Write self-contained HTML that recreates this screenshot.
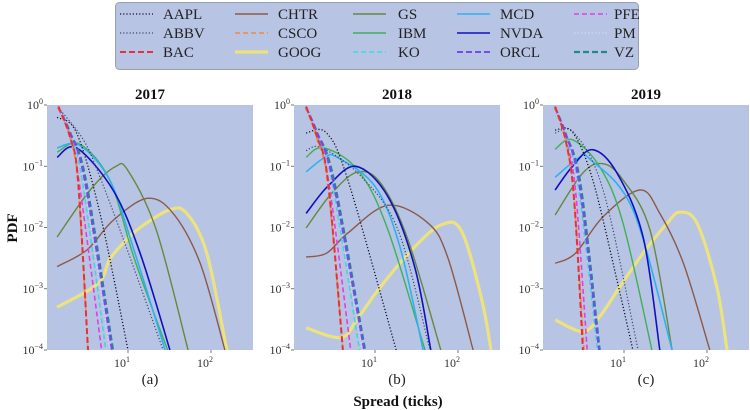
<!DOCTYPE html>
<html><head><meta charset="utf-8"><style>
html,body{margin:0;padding:0;background:#fff;}
svg{display:block;font-family:"Liberation Serif",serif;}
</style></head><body>
<svg id="chart" width="750" height="410" viewBox="0 0 750 410" xmlns="http://www.w3.org/2000/svg"></svg>
<script>
const tickers=["AAPL","ABBV","BAC","CHTR","CSCO","GOOG","GS","IBM","KO","MCD","NVDA","ORCL","PFE","PM","VZ"];
const years=["2017","2018","2019"];
const panelLabels=["(a)","(b)","(c)"];
const xTickLabels=["1","2"];
const yTickLabels=["0","-1","-2","-3","-4"];
// series points [spread, pdf] per panel
const AAPL=[[[1.4,0.63],[2.4,0.35],[4.6,0.017],[10,1e-4]],[[1.48,0.35],[2.6,0.35],[4.7,0.06],[18,1e-4]],[[1.48,0.39],[2.4,0.36],[4.2,0.06],[8.2,1.4e-3],[12.8,1e-4]]];
const ABBV=[[[1.45,0.9],[2.9,0.27],[4.6,0.066],[10,4e-3],[26.5,1e-4]],[[1.48,0.18],[2.3,0.2],[6.8,0.068],[19,9e-3],[46,1e-4]],[[1.48,0.35],[2.5,0.35],[5.6,0.041],[14.8,1e-4]]];
const BAC=[[[1.45,0.95],[2.0,0.3],[2.5,0.06],[3.3,1e-4]],[[1.48,0.95],[2.0,0.3],[2.7,0.06],[4.1,1e-4]],[[1.48,0.95],[2.0,0.25],[2.5,0.03],[3.2,1e-4]]];
const CSCO=[[[1.45,0.9],[2.0,0.3],[2.5,0.05],[3.3,1e-4]],[[1.48,0.9],[2.0,0.28],[2.7,0.05],[4.1,1e-4]],[[1.48,0.9],[2.0,0.25],[2.5,0.03],[3.3,1e-4]]];
const CHTR=[[[1.4,2.3e-3],[3.2,4.3e-3],[6.6,0.013],[17,0.03],[35,0.017],[74,2.6e-3],[147,1e-4]],[[1.48,3.3e-3],[2.6,3.8e-3],[4.7,8.1e-3],[14.3,0.023],[43,0.012],[75,3.3e-3],[152,1e-4]],[[1.48,2.6e-3],[2.6,3.8e-3],[5.6,0.015],[15.6,0.041],[27,0.017],[52,2.6e-3],[108,1e-4]]];
const GOOG=[[[1.4,5e-4],[4.3,1.2e-3],[6,3e-3],[8.7,5.5e-3],[14,0.01],[32,0.0195],[51,0.017],[89,3.8e-3],[155,1e-4]],[[1.48,2.3e-4],[3.9,1.6e-4],[6.2,3.3e-4],[11.8,1.1e-3],[30,4.8e-3],[62,0.011],[109,9e-3],[190,7.4e-4],[250,1e-4]],[[1.48,3.1e-4],[3.2,2e-4],[5.1,3.5e-4],[9,1.1e-3],[17,3.8e-3],[33,0.0117],[47,0.0178],[76,0.0117],[131,1.1e-3],[174,1e-4]]];
const GS=[[[1.4,7e-3],[3.5,0.041],[7,0.098],[10,0.085],[22,9e-3],[53,1e-4]],[[1.48,9.8e-3],[3,0.036],[6.2,0.081],[11.8,0.052],[25,6.3e-3],[62,1e-4]],[[1.48,0.016],[3.2,0.078],[5.6,0.11],[9.7,0.06],[20.6,9e-3],[38,1e-4]]];
const IBM=[[[1.4,0.17],[2.6,0.23],[6,0.06],[12,3e-3],[30,1e-4]],[[1.48,0.14],[2.4,0.2],[6.2,0.087],[14,0.01],[40,1e-4]],[[1.48,0.19],[2.4,0.27],[5.1,0.098],[9.7,0.012],[21.7,1e-4]]];
const KO=[[[1.45,0.9],[2.0,0.33],[2.8,0.06],[5.4,1e-4]],[[1.48,0.9],[2.0,0.33],[3,0.06],[6.5,1e-4]],[[1.48,0.9],[2.0,0.3],[2.8,0.05],[4.8,1e-4]]];
const MCD=[[[1.4,0.2],[2.6,0.22],[6,0.06],[11.5,4.8e-3],[28,1e-4]],[[1.48,0.081],[2.5,0.14],[3.5,0.14],[10,0.047],[20,4.8e-3],[38,1e-4]],[[1.48,0.066],[2.9,0.14],[3.9,0.13],[12.8,0.0195],[38,1e-4]]];
const NVDA=[[[1.4,0.14],[2.4,0.2],[6.6,0.041],[14,3.8e-3],[32,1e-4]],[[1.48,0.017],[2.7,0.047],[5.9,0.1],[14.3,0.032],[30,2.3e-3],[47,1e-4]],[[1.48,0.041],[2.4,0.1],[4.2,0.186],[8.2,0.078],[17,7e-3],[27,1e-4]]];
const ORCL=[[[1.45,0.9],[2.0,0.35],[3,0.06],[6.4,1e-4]],[[1.48,0.9],[2.0,0.35],[3.1,0.06],[7.4,1e-4]],[[1.48,0.9],[2.0,0.32],[2.9,0.05],[5,1e-4]]];
const PFE=[[[1.45,0.9],[2.0,0.3],[2.6,0.05],[4.8,1e-4]],[[1.48,0.9],[2.0,0.3],[2.8,0.05],[5.1,1e-4]],[[1.48,0.9],[2.0,0.26],[2.6,0.04],[3.6,1e-4]]];
const PM=[[[1.45,0.9],[2.0,0.33],[2.9,0.06],[6,1e-4]],[[1.48,0.9],[2.0,0.33],[3,0.06],[7,1e-4]],[[1.48,0.9],[2.0,0.3],[2.8,0.05],[4.9,1e-4]]];
const VZ=[[[1.45,0.9],[2.0,0.36],[3.1,0.06],[6.6,1e-4]],[[1.48,0.9],[2.0,0.36],[3.2,0.06],[7.6,1e-4]],[[1.48,0.9],[2.0,0.33],[3,0.05],[5.1,1e-4]]];
const seriesData={AAPL,ABBV,BAC,CHTR,CSCO,GOOG,GS,IBM,KO,MCD,NVDA,ORCL,PFE,PM,VZ};

const styles={
AAPL:{c:"#111122",w:1.3,d:"1.2 2"},ABBV:{c:"#3c4a6a",w:1.2,d:"1.2 2"},BAC:{c:"#e8303a",w:2,d:"6 3"},
CHTR:{c:"#8b5a48",w:1.4,d:""},CSCO:{c:"#f08a40",w:1.6,d:"5 3"},GOOG:{c:"#ece27e",w:3.2,d:""},
GS:{c:"#66883e",w:1.4,d:""},IBM:{c:"#3fb05a",w:1.4,d:""},KO:{c:"#40d8d8",w:1.6,d:"5 3"},
MCD:{c:"#30b0f0",w:1.6,d:""},NVDA:{c:"#1010c0",w:1.6,d:""},ORCL:{c:"#7a48f0",w:2,d:"6 3"},
PFE:{c:"#e040e0",w:1.6,d:"5 3"},PM:{c:"#d0d4ec",w:1.6,d:"1.5 2"},VZ:{c:"#1e8a8a",w:2.2,d:"6 3"}};

const NS="http://www.w3.org/2000/svg";
const svg=document.getElementById("chart");
function mk(tag,attrs,parent){const e=document.createElementNS(NS,tag);for(const k in attrs)e.setAttribute(k,attrs[k]);(parent||svg).appendChild(e);return e;}

const panelLefts=[47,294,543];
const PW=206,TOP=105,BOT=350;
const XMINL=0.024,DEC=83;
function xScale(i,s){return panelLefts[i]+(Math.log10(s)-XMINL)*DEC;}
function yScale(p){return TOP+(-Math.log10(p))*((BOT-TOP)/4);}
function smoothPath(P){
  let d="M"+P[0][0].toFixed(1)+","+P[0][1].toFixed(1);
  for(let k=0;k<P.length-1;k++){
    const p0=P[k-1]||P[k],p1=P[k],p2=P[k+1],p3=P[k+2]||p2;
    const c1=[p1[0]+(p2[0]-p0[0])/6,p1[1]+(p2[1]-p0[1])/6];
    const c2=[p2[0]-(p3[0]-p1[0])/6,p2[1]-(p3[1]-p1[1])/6];
    d+="C"+c1[0].toFixed(1)+","+c1[1].toFixed(1)+" "+c2[0].toFixed(1)+","+c2[1].toFixed(1)+" "+p2[0].toFixed(1)+","+p2[1].toFixed(1);
  }
  return d;
}

// legend
const lg=mk("rect",{x:115.5,y:2.5,width:523,height:67,rx:4,fill:"#b8c4e4",stroke:"#9aa0b0","stroke-width":1});


const colH=[120,235,353,457,574],colT=[163,278,398,500,614],rowY=[14,33,52];
tickers.forEach((t,k)=>{
  const col=Math.floor(k/3),row=k%3,st=styles[t];
  const g=mk("g",{});
  
  
  mk("line",{x1:colH[col],y1:rowY[row],x2:colH[col]+33,y2:rowY[row],stroke:st.c,"stroke-width":st.w,"stroke-dasharray":st.d},g);
  const tx=mk("text",{x:colT[col],y:rowY[row]+5,"font-size":"15",fill:"#222"},g);tx.textContent=t;
});

years.forEach((yr,i)=>{
  const L=panelLefts[i];
  const g=mk("g",{});
  
  
  const bg=mk("rect",{x:L,y:TOP,width:PW,height:BOT-TOP,fill:"#b8c4e4"},g);
  
  
  mk("clipPath",{id:"clip"+i},g);
  mk("rect",{x:L,y:TOP,width:PW,height:BOT-TOP},document.getElementById("clip"+i));
  const lines=mk("g",{"clip-path":"url(#clip"+i+")"},g);
  const order=["GOOG","CHTR","GS","IBM","MCD","NVDA","ABBV","AAPL","PM","KO","VZ","ORCL","PFE","CSCO","BAC"];
  order.forEach(t=>{
    const st=styles[t];
    const P=seriesData[t][i].map(p=>[xScale(i,p[0]),yScale(p[1])]);
    const pl=mk("path",{d:smoothPath(P),fill:"none",stroke:st.c,"stroke-width":st.w,"stroke-dasharray":st.d,"stroke-linejoin":"round"},lines);
    
    
  });
  yTickLabels.forEach((e,k)=>{
    const y=yScale(Math.pow(10,+e));
    mk("line",{x1:L,y1:y,x2:L-3,y2:y,stroke:"#555","stroke-width":0.8},g);
    const tx=mk("text",{x:L-4,y:y+4,"font-size":"12","text-anchor":"end",fill:"#333"},g);
    
    
    tx.innerHTML="10<tspan dy='-5' font-size='8'>"+(e==="0"?"0":"−"+e.slice(1))+"</tspan>";
  });
  xTickLabels.forEach(e=>{
    const x=xScale(i,Math.pow(10,+e));
    mk("line",{x1:x,y1:BOT,x2:x,y2:BOT+3,stroke:"#555","stroke-width":0.8},g);
    const tx=mk("text",{x:x-6,y:BOT+17,"font-size":"12","text-anchor":"middle",fill:"#333"},g);
    
    
    tx.innerHTML="10<tspan dy='-5' font-size='8'>"+e+"</tspan>";
  });
  const tt=mk("text",{x:L+PW/2,y:99,"font-size":"15","font-weight":"bold","text-anchor":"middle",fill:"#111"},g);
  tt.textContent=yr;
  
  
  const pl=mk("text",{x:L+PW/2,y:384,"font-size":"15","text-anchor":"middle",fill:"#222"},g);
  pl.textContent=panelLabels[i];
  
  
});
const xt=mk("text",{x:398,y:406,"font-size":"15","font-weight":"bold","text-anchor":"middle",fill:"#111"});
xt.textContent="Spread (ticks)";


const yt=mk("text",{x:0,y:0,"font-size":"15","font-weight":"bold","text-anchor":"middle",fill:"#111",transform:"translate(17,228) rotate(-90)"});
yt.textContent="PDF";


</script>
</body></html>
